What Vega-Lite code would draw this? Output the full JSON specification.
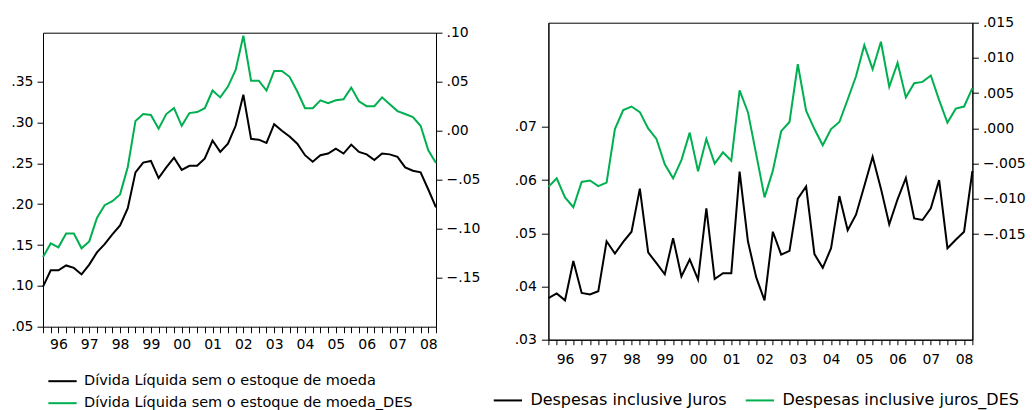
{
  "$schema": "https://vega.github.io/schema/vega-lite/v6.json",
  "background": "white",
  "padding": {"left": 0, "top": 14.7, "right": 0, "bottom": 0},
  "spacing": 11.4,
  "config": {
    "view": {"stroke": "#000000", "strokeWidth": 1},
    "font": "DejaVu Sans",
    "axis": {
      "grid": false,
      "title": null,
      "domainColor": "#000000",
      "tickColor": "#000000",
      "labelColor": "#000000",
      "labelFont": "DejaVu Sans",
      "labelFontSize": 14,
      "tickSize": 6,
      "labelPadding": 4,
      "labelOverlap": false,
      "labelFlush": false,
      "labelBound": false
    },
    "legend": {
      "orient": "none",
      "title": null,
      "padding": 0,
      "symbolType": "stroke",
      "symbolSize": 800,
      "symbolStrokeWidth": 2,
      "labelFont": "DejaVu Sans",
      "labelColor": "#000000",
      "labelLimit": 600
    }
  },
  "datasets": {
    "divida": [
      {"t": 1996, "div": 0.099, "des": -0.129},
      {"t": 1996.25, "div": 0.119, "des": -0.115},
      {"t": 1996.5, "div": 0.119, "des": -0.119},
      {"t": 1996.75, "div": 0.125, "des": -0.105},
      {"t": 1997, "div": 0.122, "des": -0.105},
      {"t": 1997.25, "div": 0.114, "des": -0.120},
      {"t": 1997.5, "div": 0.126, "des": -0.113},
      {"t": 1997.75, "div": 0.141, "des": -0.089},
      {"t": 1998, "div": 0.151, "des": -0.076},
      {"t": 1998.25, "div": 0.163, "des": -0.072},
      {"t": 1998.5, "div": 0.174, "des": -0.065},
      {"t": 1998.75, "div": 0.195, "des": -0.037},
      {"t": 1999, "div": 0.239, "des": 0.010},
      {"t": 1999.25, "div": 0.251, "des": 0.017},
      {"t": 1999.5, "div": 0.253, "des": 0.016},
      {"t": 1999.75, "div": 0.232, "des": 0.002},
      {"t": 2000, "div": 0.245, "des": 0.017},
      {"t": 2000.25, "div": 0.257, "des": 0.023},
      {"t": 2000.5, "div": 0.242, "des": 0.005},
      {"t": 2000.75, "div": 0.247, "des": 0.018},
      {"t": 2001, "div": 0.247, "des": 0.019},
      {"t": 2001.25, "div": 0.256, "des": 0.023},
      {"t": 2001.5, "div": 0.278, "des": 0.041},
      {"t": 2001.75, "div": 0.264, "des": 0.034},
      {"t": 2002, "div": 0.274, "des": 0.045},
      {"t": 2002.25, "div": 0.296, "des": 0.062},
      {"t": 2002.5, "div": 0.334, "des": 0.097},
      {"t": 2002.75, "div": 0.280, "des": 0.051},
      {"t": 2003, "div": 0.279, "des": 0.051},
      {"t": 2003.25, "div": 0.275, "des": 0.041},
      {"t": 2003.5, "div": 0.298, "des": 0.061},
      {"t": 2003.75, "div": 0.290, "des": 0.061},
      {"t": 2004, "div": 0.283, "des": 0.055},
      {"t": 2004.25, "div": 0.274, "des": 0.040},
      {"t": 2004.5, "div": 0.260, "des": 0.023},
      {"t": 2004.75, "div": 0.252, "des": 0.023},
      {"t": 2005, "div": 0.260, "des": 0.031},
      {"t": 2005.25, "div": 0.262, "des": 0.028},
      {"t": 2005.5, "div": 0.268, "des": 0.031},
      {"t": 2005.75, "div": 0.262, "des": 0.032},
      {"t": 2006, "div": 0.273, "des": 0.044},
      {"t": 2006.25, "div": 0.264, "des": 0.030},
      {"t": 2006.5, "div": 0.261, "des": 0.025},
      {"t": 2006.75, "div": 0.254, "des": 0.025},
      {"t": 2007, "div": 0.262, "des": 0.034},
      {"t": 2007.25, "div": 0.261, "des": 0.027},
      {"t": 2007.5, "div": 0.258, "des": 0.020},
      {"t": 2007.75, "div": 0.245, "des": 0.017},
      {"t": 2008, "div": 0.241, "des": 0.014},
      {"t": 2008.25, "div": 0.239, "des": 0.005},
      {"t": 2008.5, "div": 0.218, "des": -0.020},
      {"t": 2008.75, "div": 0.196, "des": -0.033}
    ],
    "despesas": [
      {"t": 1996, "jur": 0.0378, "des": -0.0083},
      {"t": 1996.25, "jur": 0.0387, "des": -0.0071},
      {"t": 1996.5, "jur": 0.0374, "des": -0.0098},
      {"t": 1996.75, "jur": 0.0448, "des": -0.0112},
      {"t": 1997, "jur": 0.0388, "des": -0.0076},
      {"t": 1997.25, "jur": 0.0385, "des": -0.0074},
      {"t": 1997.5, "jur": 0.0391, "des": -0.0082},
      {"t": 1997.75, "jur": 0.0485, "des": -0.0077},
      {"t": 1998, "jur": 0.0462, "des": -0.0001},
      {"t": 1998.25, "jur": 0.0484, "des": 0.0026},
      {"t": 1998.5, "jur": 0.0503, "des": 0.0031},
      {"t": 1998.75, "jur": 0.0584, "des": 0.0023},
      {"t": 1999, "jur": 0.0464, "des": 0.0000},
      {"t": 1999.25, "jur": 0.0444, "des": -0.0015},
      {"t": 1999.5, "jur": 0.0423, "des": -0.0051},
      {"t": 1999.75, "jur": 0.0491, "des": -0.0071},
      {"t": 2000, "jur": 0.0419, "des": -0.0045},
      {"t": 2000.25, "jur": 0.0451, "des": -0.0006},
      {"t": 2000.5, "jur": 0.0413, "des": -0.0061},
      {"t": 2000.75, "jur": 0.0547, "des": -0.0015},
      {"t": 2001, "jur": 0.0414, "des": -0.0050},
      {"t": 2001.25, "jur": 0.0425, "des": -0.0034},
      {"t": 2001.5, "jur": 0.0425, "des": -0.0046},
      {"t": 2001.75, "jur": 0.0616, "des": 0.0054},
      {"t": 2002, "jur": 0.0485, "des": 0.0023},
      {"t": 2002.25, "jur": 0.0417, "des": -0.0037},
      {"t": 2002.5, "jur": 0.0374, "des": -0.0098},
      {"t": 2002.75, "jur": 0.0503, "des": -0.0060},
      {"t": 2003, "jur": 0.0460, "des": -0.0004},
      {"t": 2003.25, "jur": 0.0467, "des": 0.0009},
      {"t": 2003.5, "jur": 0.0565, "des": 0.0091},
      {"t": 2003.75, "jur": 0.0588, "des": 0.0025},
      {"t": 2004, "jur": 0.0461, "des": -0.0001},
      {"t": 2004.25, "jur": 0.0435, "des": -0.0024},
      {"t": 2004.5, "jur": 0.0472, "des": -0.0001},
      {"t": 2004.75, "jur": 0.0570, "des": 0.0009},
      {"t": 2005, "jur": 0.0506, "des": 0.0041},
      {"t": 2005.25, "jur": 0.0535, "des": 0.0074},
      {"t": 2005.5, "jur": 0.0589, "des": 0.0118},
      {"t": 2005.75, "jur": 0.0644, "des": 0.0084},
      {"t": 2006, "jur": 0.0584, "des": 0.0123},
      {"t": 2006.25, "jur": 0.0517, "des": 0.0059},
      {"t": 2006.5, "jur": 0.0564, "des": 0.0093},
      {"t": 2006.75, "jur": 0.0604, "des": 0.0044},
      {"t": 2007, "jur": 0.0528, "des": 0.0064},
      {"t": 2007.25, "jur": 0.0525, "des": 0.0066},
      {"t": 2007.5, "jur": 0.0547, "des": 0.0075},
      {"t": 2007.75, "jur": 0.0600, "des": 0.0040},
      {"t": 2008, "jur": 0.0472, "des": 0.0008},
      {"t": 2008.25, "jur": 0.0488, "des": 0.0028},
      {"t": 2008.5, "jur": 0.0503, "des": 0.0031},
      {"t": 2008.75, "jur": 0.0617, "des": 0.0057}
    ]
  },
  "resolve": {"scale": {"color": "independent"}, "legend": {"color": "independent"}},
  "hconcat": [
    {
      "width": 393,
      "height": 304,
      "view": {"stroke": null},
      "data": {"name": "divida"},
      "layer": [
        {
          "mark": {"type": "line", "strokeWidth": 2},
          "encoding": {
            "x": {
              "field": "t",
              "type": "quantitative",
              "scale": {"domain": [1996, 2008.75], "nice": false, "zero": false},
              "axis": {
                "orient": "bottom",
                "values": [1996, 1996.25, 1996.5, 1996.75, 1997, 1997.25, 1997.5, 1997.75, 1998, 1998.25, 1998.5, 1998.75, 1999, 1999.25, 1999.5, 1999.75, 2000, 2000.25, 2000.5, 2000.75, 2001, 2001.25, 2001.5, 2001.75, 2002, 2002.25, 2002.5, 2002.75, 2003, 2003.25, 2003.5, 2003.75, 2004, 2004.25, 2004.5, 2004.75, 2005, 2005.25, 2005.5, 2005.75, 2006, 2006.25, 2006.5, 2006.75, 2007, 2007.25, 2007.5, 2007.75, 2008, 2008.25, 2008.5, 2008.75],
                "labelExpr": "datum.value % 1 == 0.5 ? substring(format(floor(datum.value), 'd'), 2, 4) : ''",
                "tickSize": 6,
                "labelPadding": 5
              }
            },
            "y": {
              "field": "div",
              "type": "quantitative",
              "scale": {"domain": [0.05, 0.41], "range": [304, 10], "nice": false, "zero": false},
              "axis": {
                "orient": "left",
                "values": [0.05, 0.1, 0.15, 0.2, 0.25, 0.3, 0.35],
                "labelExpr": "replace(format(datum.value, '.2f'), '0.', '.')",
                "minExtent": 43,
                "maxExtent": 43
              }
            },
            "color": {
              "datum": "Dívida Líquida sem o estoque de moeda",
              "type": "nominal",
              "scale": {
                "domain": ["Dívida Líquida sem o estoque de moeda", "Dívida Líquida sem o estoque de moeda_DES"],
                "range": ["#000000", "#00b050"]
              },
              "legend": {
                "direction": "vertical",
                "legendX": 4,
                "legendY": 343,
                "labelFontSize": 14.5,
                "labelOffset": 6,
                "rowPadding": -12
              }
            }
          }
        },
        {
          "mark": {"type": "line", "strokeWidth": 2},
          "encoding": {
            "x": {
              "field": "t",
              "type": "quantitative",
              "scale": {"domain": [1996, 2008.75], "nice": false, "zero": false},
              "axis": {
                "orient": "top",
                "offset": -10,
                "labels": false,
                "ticks": false,
                "domain": true
              }
            },
            "y": {
              "field": "des",
              "type": "quantitative",
              "scale": {"domain": [-0.2, 0.1], "range": [304, 10], "nice": false, "zero": false},
              "axis": {
                "orient": "right",
                "values": [-0.15, -0.1, -0.05, 0, 0.05, 0.1],
                "labelExpr": "replace(format(datum.value, '.2f'), '0.', '.')",
                "minExtent": 40,
                "maxExtent": 40
              }
            },
            "color": {"datum": "Dívida Líquida sem o estoque de moeda_DES", "type": "nominal"}
          }
        }
      ],
      "resolve": {"scale": {"y": "independent"}, "axis": {"x": "independent"}}
    },
    {
      "width": 424,
      "height": 317,
      "data": {"name": "despesas"},
      "encoding": {
        "x": {
          "field": "t",
          "type": "quantitative",
          "scale": {"domain": [1996, 2008.75], "nice": false, "zero": false},
          "axis": {
            "values": [1996, 1996.25, 1996.5, 1996.75, 1997, 1997.25, 1997.5, 1997.75, 1998, 1998.25, 1998.5, 1998.75, 1999, 1999.25, 1999.5, 1999.75, 2000, 2000.25, 2000.5, 2000.75, 2001, 2001.25, 2001.5, 2001.75, 2002, 2002.25, 2002.5, 2002.75, 2003, 2003.25, 2003.5, 2003.75, 2004, 2004.25, 2004.5, 2004.75, 2005, 2005.25, 2005.5, 2005.75, 2006, 2006.25, 2006.5, 2006.75, 2007, 2007.25, 2007.5, 2007.75, 2008, 2008.25, 2008.5, 2008.75],
            "labelExpr": "datum.value % 1 == 0.5 ? substring(format(floor(datum.value), 'd'), 2, 4) : ''",
            "tickSize": 5,
            "labelPadding": 8
          }
        }
      },
      "layer": [
        {
          "mark": {"type": "line", "strokeWidth": 2},
          "encoding": {
            "y": {
              "field": "jur",
              "type": "quantitative",
              "scale": {"domain": [0.03, 0.0896], "nice": false, "zero": false},
              "axis": {
                "orient": "left",
                "values": [0.03, 0.04, 0.05, 0.06, 0.07],
                "labelExpr": "replace(format(datum.value, '.2f'), '0.', '.')",
                "tickSize": 7,
                "labelPadding": 5,
                "minExtent": 56,
                "maxExtent": 56
              }
            },
            "color": {
              "datum": "Despesas inclusive Juros",
              "type": "nominal",
              "scale": {
                "domain": ["Despesas inclusive Juros", "Despesas inclusive juros_DES"],
                "range": ["#000000", "#00b050"]
              },
              "legend": {
                "direction": "horizontal",
                "legendX": -56,
                "legendY": 362,
                "labelFontSize": 16,
                "labelOffset": 7,
                "columnPadding": 14
              }
            }
          }
        },
        {
          "mark": {"type": "line", "strokeWidth": 2},
          "encoding": {
            "y": {
              "field": "des",
              "type": "quantitative",
              "scale": {"domain": [-0.03, 0.015], "nice": false, "zero": false},
              "axis": {
                "orient": "right",
                "values": [-0.015, -0.01, -0.005, 0, 0.005, 0.01, 0.015],
                "labelExpr": "replace(format(datum.value, '.3f'), '0.', '.')"
              }
            },
            "color": {"datum": "Despesas inclusive juros_DES", "type": "nominal"}
          }
        }
      ],
      "resolve": {"scale": {"y": "independent"}}
    }
  ]
}
